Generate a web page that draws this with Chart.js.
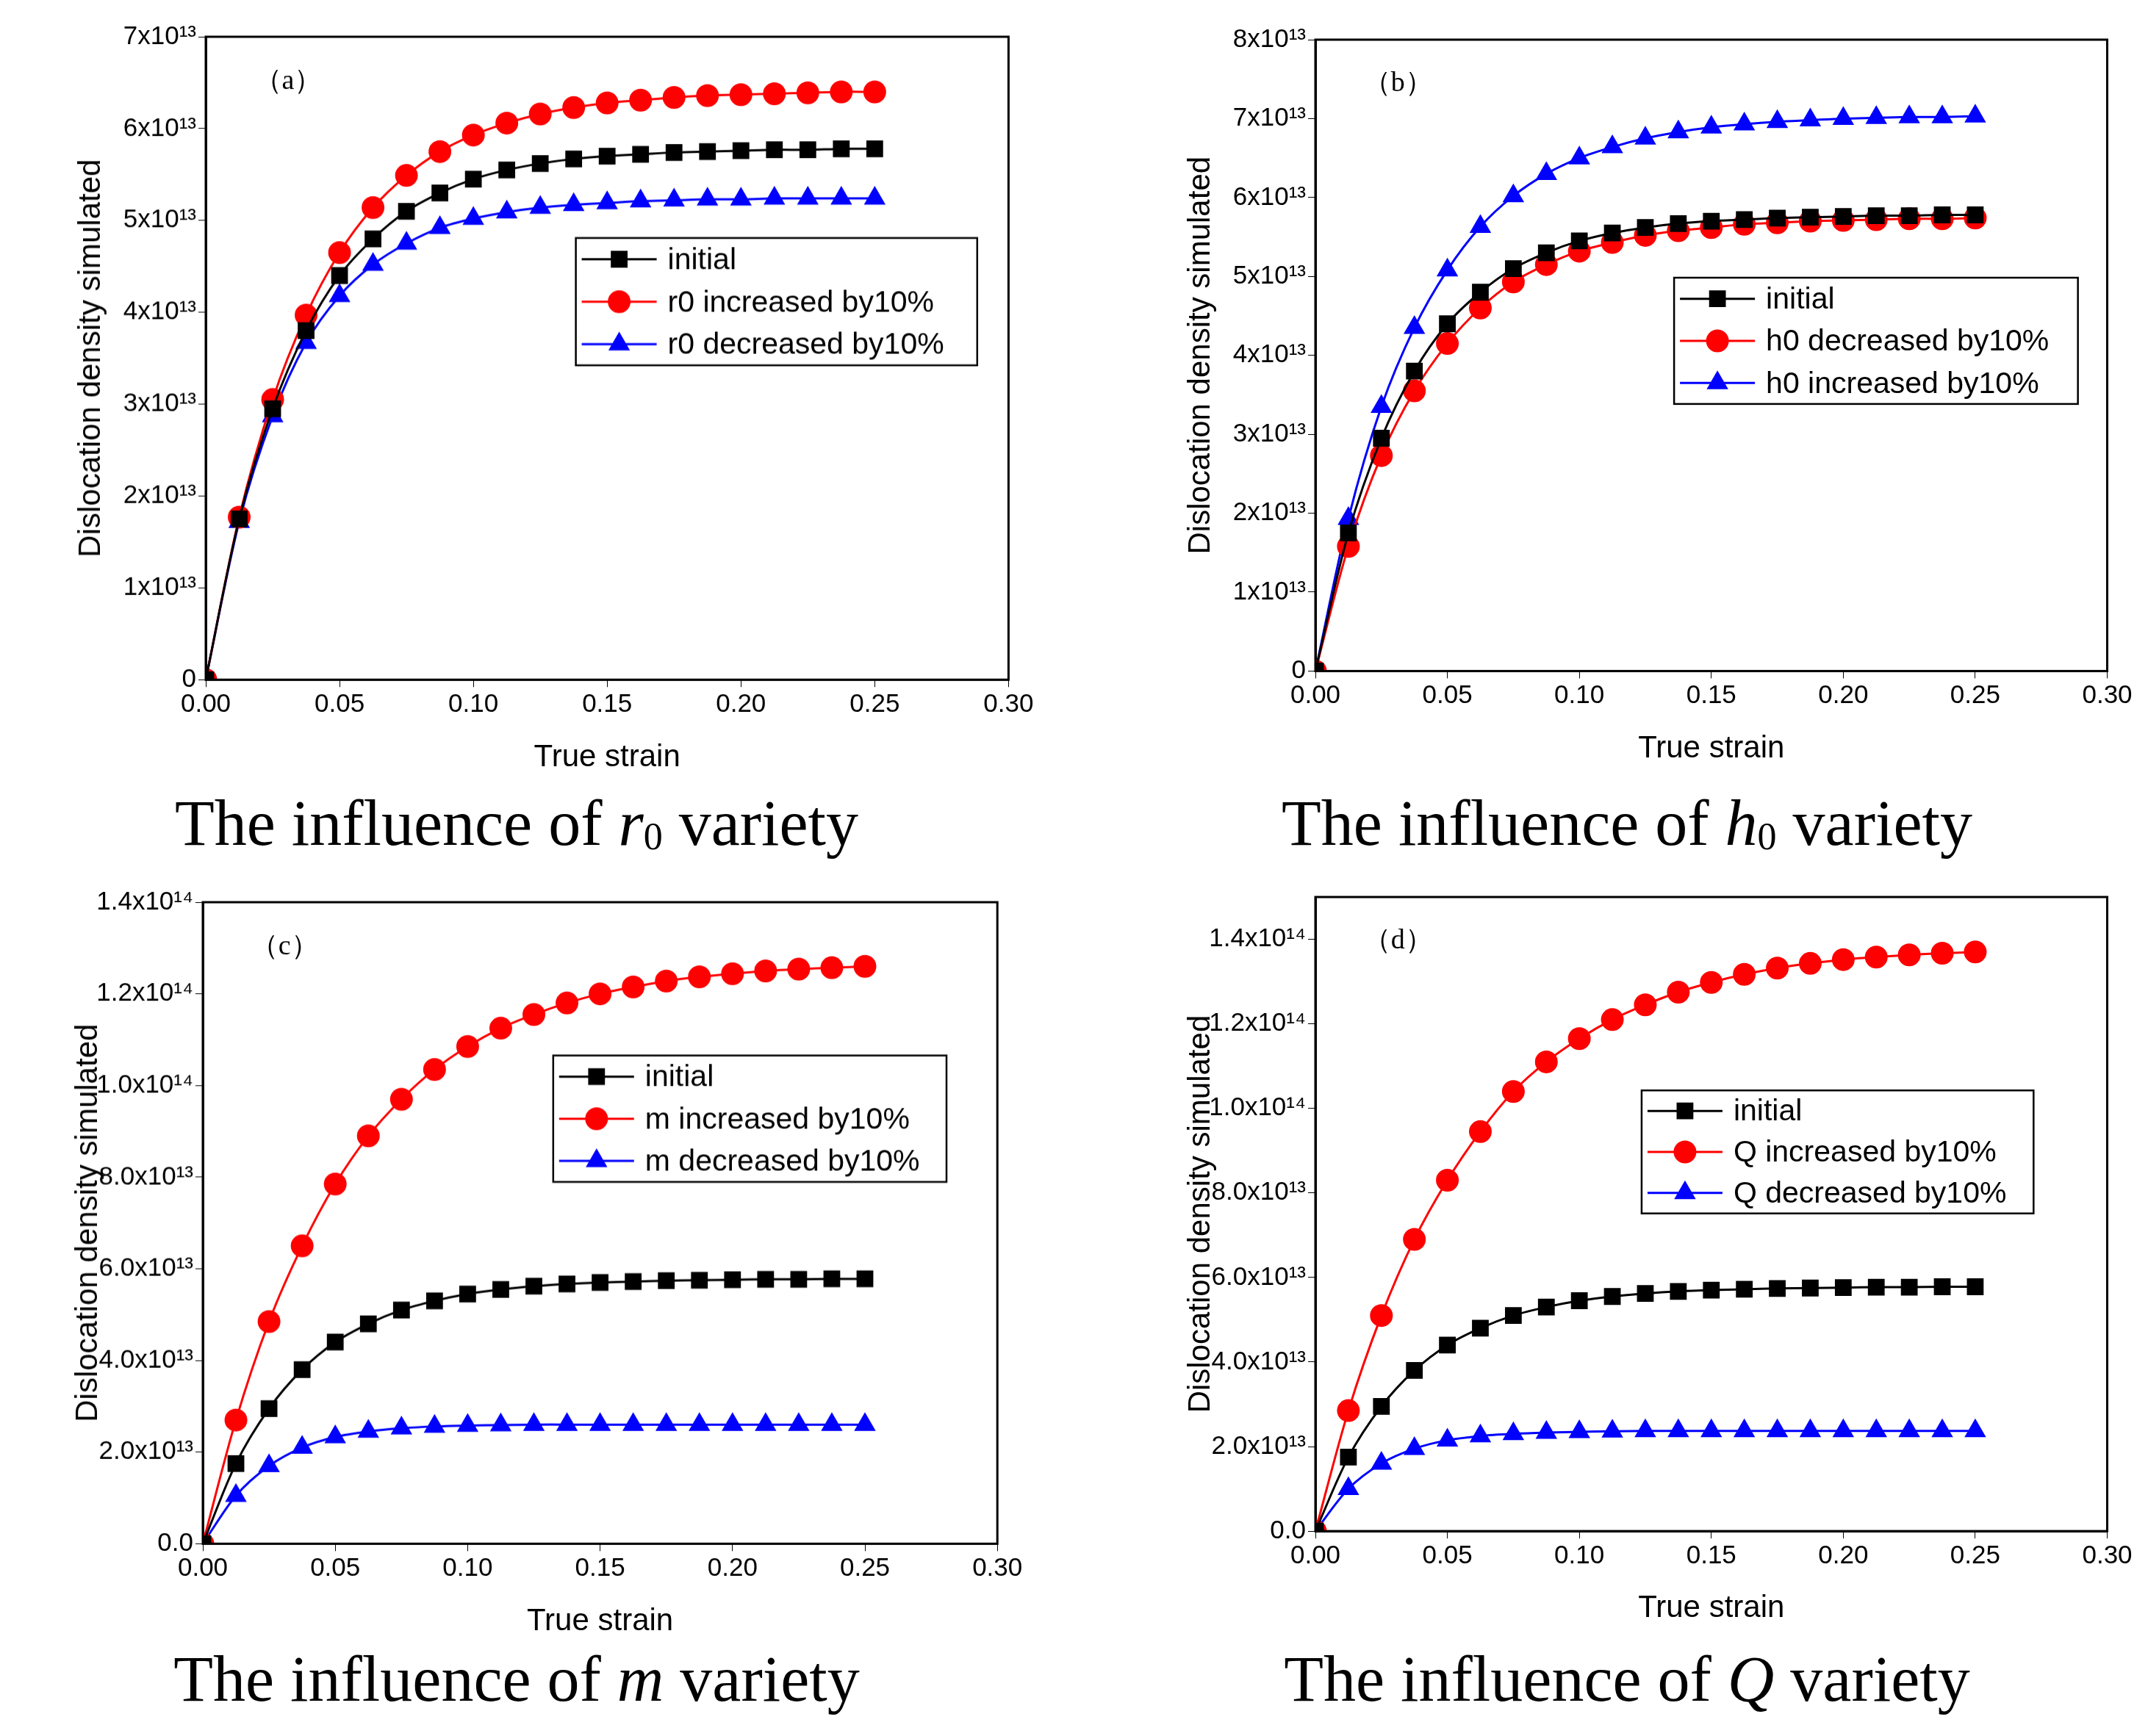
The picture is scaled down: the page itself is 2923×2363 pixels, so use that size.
<!DOCTYPE html>
<html>
<head>
<meta charset="utf-8">
<script src="https://cdn.jsdelivr.net/npm/chart.js@4"></script>
<style>
body { margin:0; background:#fff; width:2923px; height:2363px; position:relative; overflow:hidden; }
.wrap { position:absolute; }
.title { position:absolute; font-family:"Liberation Serif","DejaVu Serif",serif; font-size:88px; color:#000; white-space:nowrap; transform:translateX(-50%); }
.title sub { font-size:52px; vertical-align:-6px; }
</style>
</head>
<body>
<div class="title" style="left:703px;top:1070px">The influence of <i>r</i><sub>0</sub> variety</div>
<div class="title" style="left:2214px;top:1070px">The influence of <i>h</i><sub>0</sub> variety</div>
<div class="title" style="left:703px;top:2235px">The influence of <i>m</i> variety</div>
<div class="title" style="left:2214px;top:2235px">The influence of <i>Q</i> variety</div>
<script>
const S = 2923 / 1568;
const strain = [];
for (let i = 0; i <= 20; i++) strain.push(i * 0.0125);

const initial = [0,1.75,2.95,3.8,4.4,4.8,5.1,5.3,5.45,5.55,5.62,5.67,5.7,5.72,5.74,5.75,5.76,5.77,5.77,5.78,5.78];

const panels = [
  { box:[150,27,736,496], max:7e13, top:7e13, step:1e13, tag:'（a）', fmt:'int', leg:[0.461,0.313,0.5,0.198],
    series:[
      ['initial', initial, 'rect'],
      ['r0 increased by10%', [0,1.77,3.05,3.97,4.65,5.14,5.49,5.75,5.93,6.06,6.16,6.23,6.28,6.31,6.34,6.36,6.37,6.38,6.39,6.40,6.40], 'circle'],
      ['r0 decreased by10%', [0,1.72,2.87,3.67,4.18,4.52,4.75,4.92,5.02,5.09,5.14,5.17,5.19,5.21,5.22,5.23,5.23,5.24,5.24,5.24,5.24], 'triangle']
    ]},
  { box:[960,29,1538,490], max:8e13, top:8e13, step:1e13, tag:'（b）', fmt:'int', leg:[0.453,0.377,0.51,0.2],
    series:[
      ['initial', initial, 'rect'],
      ['h0 decreased by10%', [0,1.58,2.73,3.55,4.15,4.6,4.93,5.15,5.32,5.43,5.52,5.58,5.62,5.66,5.68,5.7,5.71,5.72,5.73,5.73,5.74], 'circle'],
      ['h0 increased by10%', [0,1.93,3.35,4.35,5.08,5.63,6.02,6.3,6.5,6.64,6.75,6.83,6.89,6.93,6.96,6.98,7.0,7.01,7.02,7.02,7.03], 'triangle']
    ]},
  { box:[148,659,728,1127], max:1.4e14, top:1.4e14, step:2e13, tag:'（c）', fmt:'dec', leg:[0.441,0.239,0.495,0.197],
    series:[
      ['initial', initial, 'rect'],
      ['m increased by10%', [0,2.7,4.85,6.5,7.85,8.9,9.7,10.35,10.85,11.25,11.55,11.8,12.0,12.15,12.28,12.37,12.44,12.5,12.54,12.57,12.6], 'circle'],
      ['m decreased by10%', [0,1.05,1.7,2.1,2.33,2.45,2.52,2.56,2.58,2.59,2.6,2.6,2.6,2.6,2.6,2.6,2.6,2.6,2.6,2.6,2.6], 'triangle']
    ]},
  { box:[960,655,1538,1118], max:1.5e14, top:1.4e14, step:2e13, tag:'（d）', fmt:'dec', leg:[0.412,0.305,0.495,0.194],
    series:[
      ['initial', initial, 'rect'],
      ['Q increased by10%', [0,2.85,5.1,6.9,8.3,9.45,10.4,11.1,11.65,12.1,12.45,12.75,12.98,13.17,13.32,13.43,13.52,13.58,13.63,13.67,13.7], 'circle'],
      ['Q decreased by10%', [0,1.0,1.6,1.95,2.15,2.25,2.3,2.33,2.35,2.36,2.37,2.37,2.37,2.37,2.37,2.37,2.37,2.37,2.37,2.37,2.37], 'triangle']
    ]}
];

const colors = ['#000000', '#ff0000', '#0000ff'];
const sup = { '0':'⁰','1':'¹','2':'²','3':'³','4':'⁴','5':'⁵','6':'⁶','7':'⁷','8':'⁸','9':'⁹' };
function sci(v, fmt) {
  if (v === 0) return fmt === 'int' ? '0' : '0.0';
  let e = Math.floor(Math.log10(v) + 1e-9);
  let m = v / Math.pow(10, e);
  let ms = fmt === 'int' ? String(Math.round(m)) : m.toFixed(1);
  return ms + 'x10' + String(e).split('').map(c => sup[c]).join('');
}

const PADL = 95, AXW = 185, AXH = 135, PADT = 50, PADR = 60;

panels.forEach(p => {
  const L = p.box[0]*S, T = p.box[1]*S, R = p.box[2]*S, B = p.box[3]*S;
  const div = document.createElement('div');
  div.className = 'wrap';
  const w = (R-L) + PADL + AXW + PADR, h = (B-T) + PADT + AXH;
  div.style.left = (L-AXW-PADL) + 'px'; div.style.top = (T-PADT) + 'px';
  div.style.width = w + 'px'; div.style.height = h + 'px';
  const cv = document.createElement('canvas');
  div.appendChild(cv);
  document.body.appendChild(div);

  const frameAndLegend = {
    id: 'frame',
    afterDraw(chart) {
      const ctx = chart.ctx, a = chart.chartArea;
      ctx.save();
      ctx.strokeStyle = '#000'; ctx.lineWidth = 3;
      ctx.strokeRect(a.left, a.top, a.right-a.left, a.bottom-a.top);
      const aw = a.right-a.left, ah = a.bottom-a.top;
      ctx.font = '38px "Liberation Serif", serif'; ctx.fillStyle = '#000';
      ctx.textBaseline = 'middle';
      ctx.fillText(p.tag, a.left + aw*0.06, a.top + ah*0.07);
      const lx = a.left + aw*p.leg[0], ly = a.top + ah*p.leg[1];
      const lw = aw*p.leg[2], lh = ah*p.leg[3];
      ctx.lineWidth = 2.5;
      ctx.strokeRect(lx, ly, lw, lh);
      ctx.font = '41px "Liberation Sans", Arial, sans-serif';
      chart.data.datasets.forEach((ds, i) => {
        const yy = ly + lh*(i+0.5)/3;
        ctx.strokeStyle = ds.borderColor; ctx.lineWidth = 3;
        ctx.beginPath(); ctx.moveTo(lx+8, yy); ctx.lineTo(lx+110, yy); ctx.stroke();
        Chart.helpers.drawPoint(ctx, { pointStyle: ds.pointStyle, radius: 14, borderWidth: 1 }, lx+59, yy);
        ctx.fillStyle = ds.borderColor; ctx.fill();
        ctx.fillStyle = '#000';
        ctx.fillText(ds.label, lx+125, yy+2);
      });
      ctx.restore();
    }
  };

  new Chart(cv, {
    type: 'line',
    data: {
      datasets: p.series.map((s, i) => ({
        label: s[0],
        data: s[1].map((v, j) => ({ x: strain[j], y: v*1e13 })),
        borderColor: colors[i],
        backgroundColor: colors[i],
        pointStyle: s[2],
        pointRadius: 14,
        borderWidth: 3,
        tension: 0.3
      }))
    },
    options: {
      responsive: true, maintainAspectRatio: false, animation: false,
      layout: { padding: { top: PADT, right: PADR, left: PADL } },
      plugins: { legend: { display: false }, tooltip: { enabled: false } },
      scales: {
        x: {
          type: 'linear', min: 0, max: 0.3,
          ticks: { stepSize: 0.05, color: '#000', font: { size: 35, family: 'Liberation Sans' }, callback: v => v.toFixed(2) },
          grid: { drawOnChartArea: false, color: '#000', tickLength: 10 },
          border: { color: '#000', width: 3 },
          title: { display: true, text: 'True strain', color: '#000', font: { size: 42, family: 'Liberation Sans' } },
          afterFit(sc) { sc.height = AXH; }
        },
        y: {
          min: 0, max: p.max,
          ticks: { color: '#000', font: { size: 35, family: 'Liberation Sans' }, callback: v => sci(v, p.fmt) },
          afterBuildTicks(sc) {
            const t = [];
            for (let v = 0; v <= p.top + 1; v += p.step) t.push({ value: v });
            sc.ticks = t;
          },
          grid: { drawOnChartArea: false, color: '#000', tickLength: 10 },
          border: { color: '#000', width: 3 },
          title: { display: true, text: 'Dislocation density simulated', color: '#000', font: { size: 42, family: 'Liberation Sans' } },
          afterFit(sc) { sc.width = AXW; }
        }
      }
    },
    plugins: [frameAndLegend]
  });
});
</script>
</body>
</html>
